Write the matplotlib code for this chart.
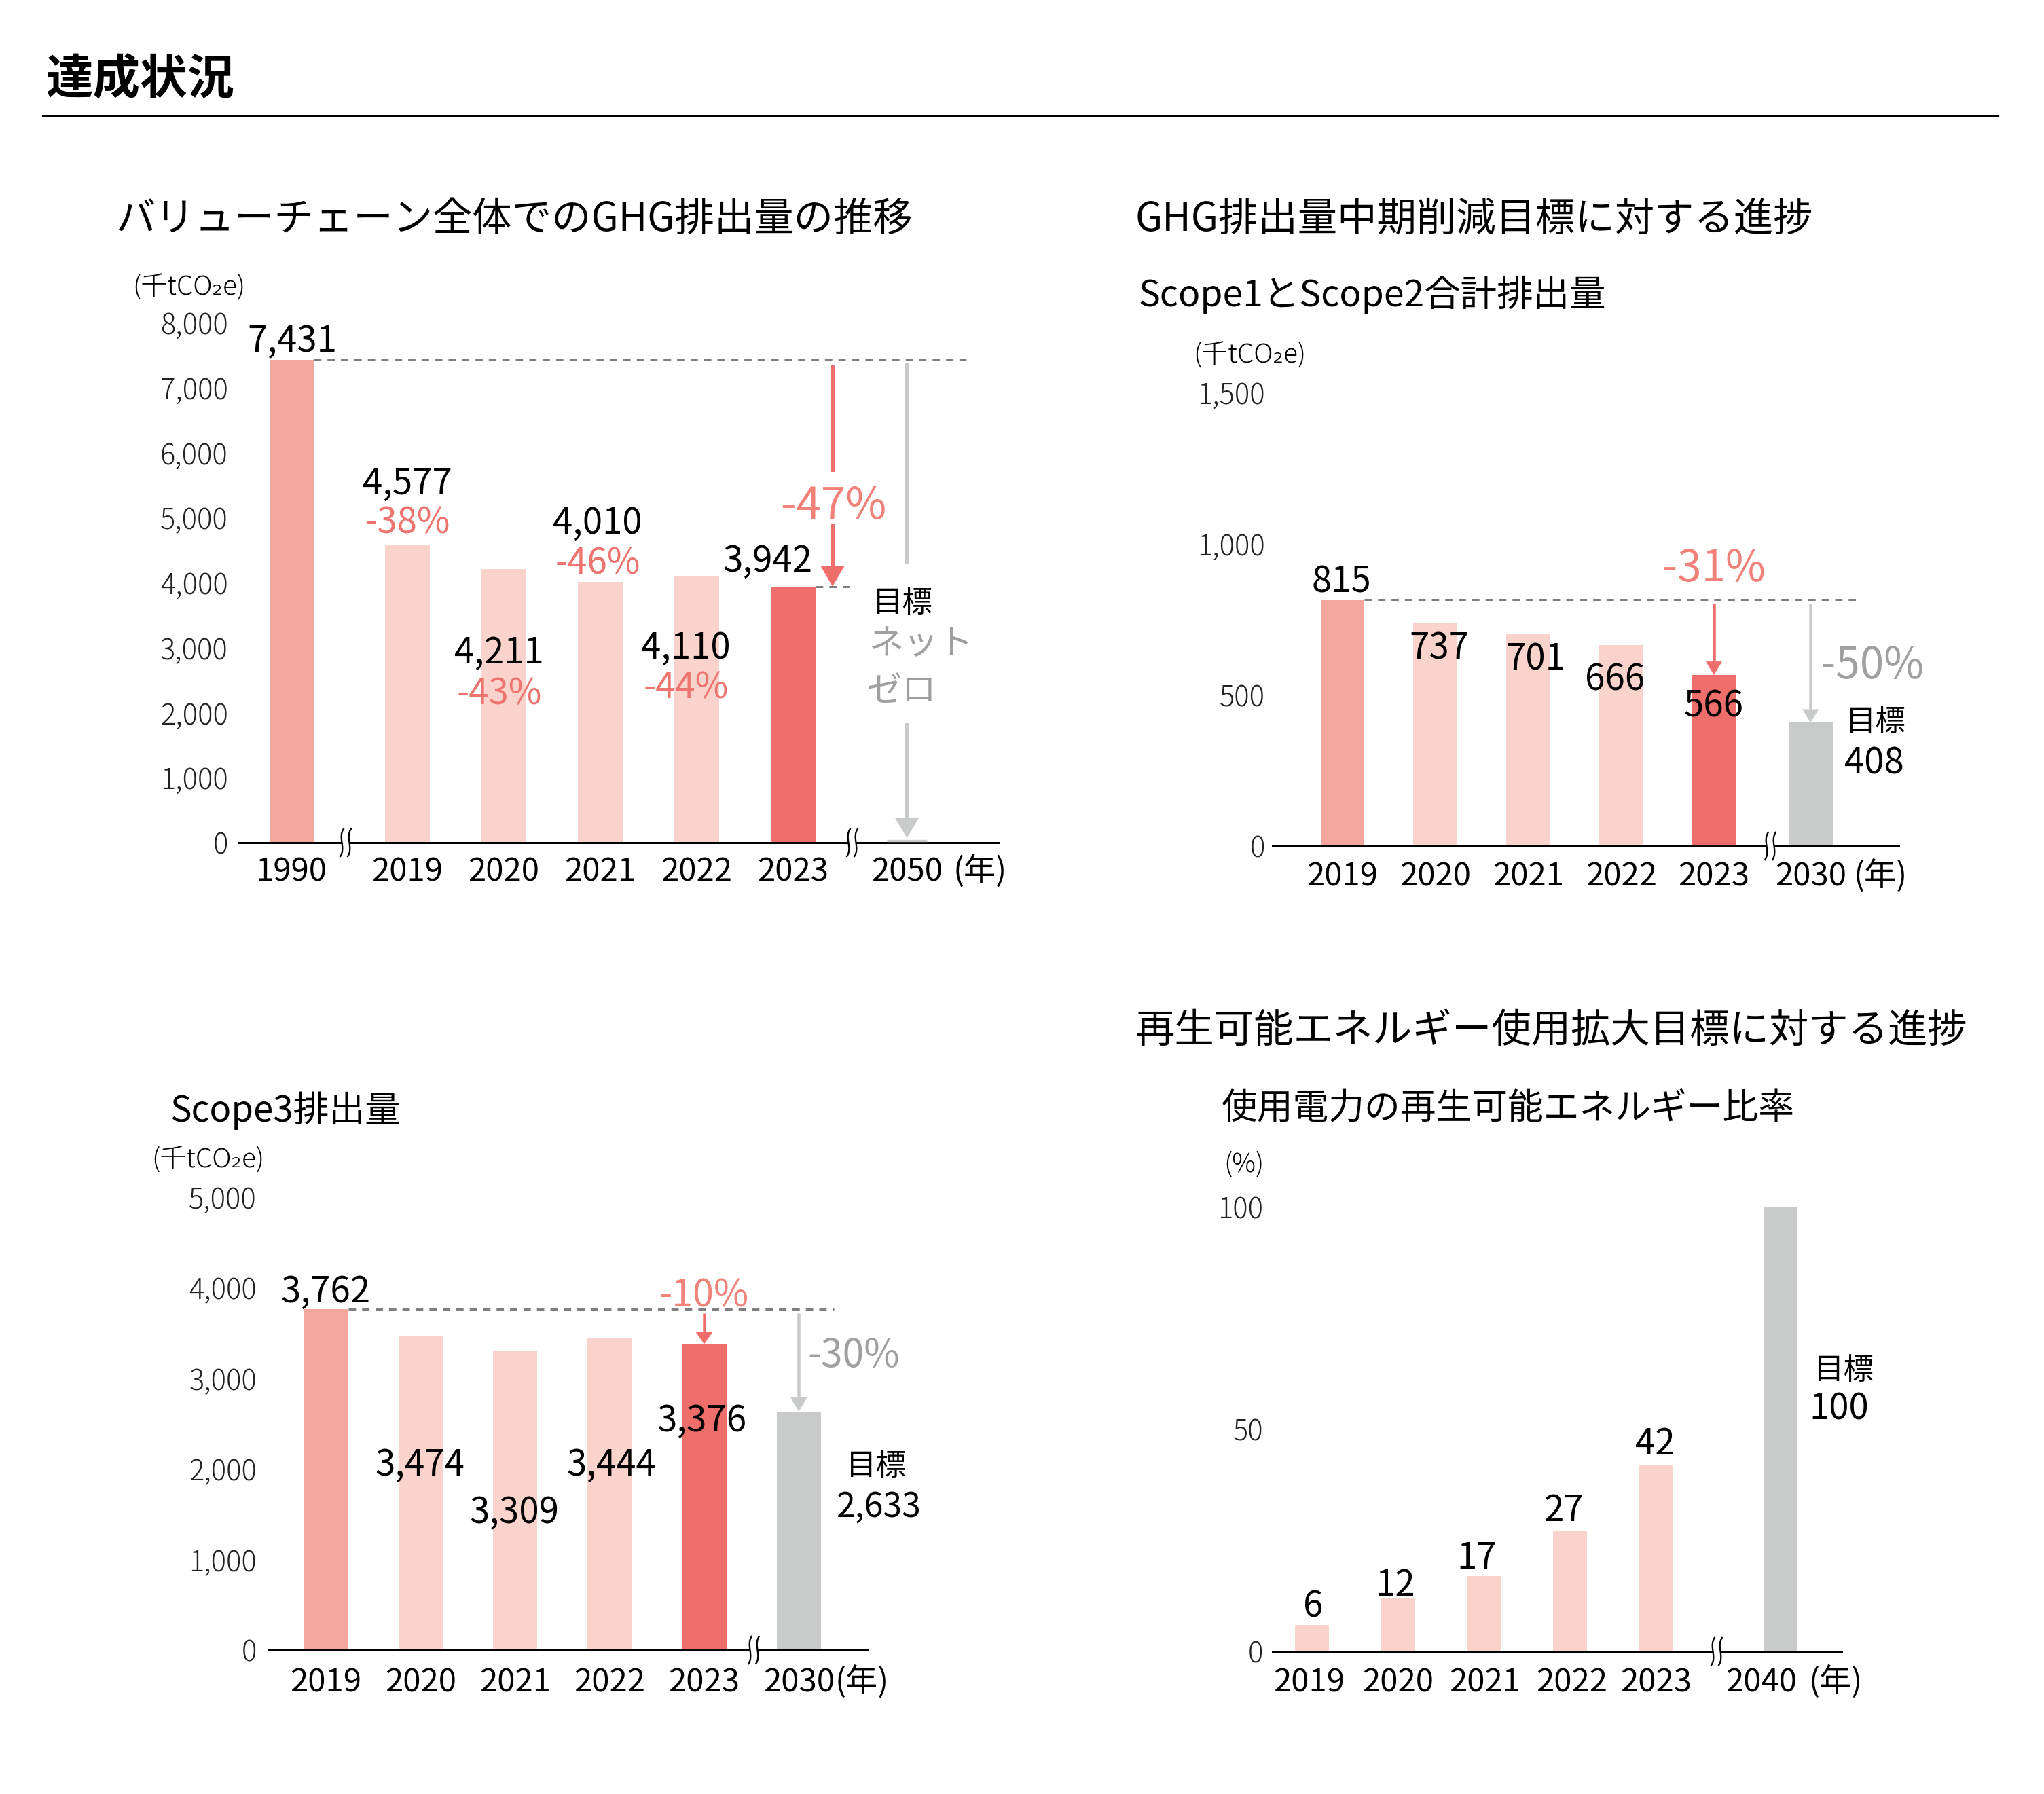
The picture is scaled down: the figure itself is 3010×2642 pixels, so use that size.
import matplotlib
matplotlib.use('Agg')
import matplotlib.pyplot as plt
import matplotlib.transforms as mtransforms
from matplotlib.patches import Polygon, PathPatch, Rectangle
from matplotlib.path import Path
from matplotlib.lines import Line2D

plt.rcParams['font.family'] = ['Noto Sans CJK JP', 'DejaVu Sans']

# ---------------- data ----------------
c1_years = ['1990', '2019', '2020', '2021', '2022', '2023']
c1_values = [7431, 4577, 4211, 4010, 4110, 3942]
c1_changes = ['', '-38%', '-43%', '-46%', '-44%', '']
c1_target_year = '2050'
c1_target_value = 0
c1_total_change = '-47%'
c1_yticks = [0, 1000, 2000, 3000, 4000, 5000, 6000, 7000, 8000]

c2_years = ['2019', '2020', '2021', '2022', '2023']
c2_values = [815, 737, 701, 666, 566]
c2_target_year = '2030'
c2_target_value = 408
c2_change = '-31%'
c2_target_change = '-50%'
c2_yticks = [0, 500, 1000, 1500]

c3_years = ['2019', '2020', '2021', '2022', '2023']
c3_values = [3762, 3474, 3309, 3444, 3376]
c3_target_year = '2030'
c3_target_value = 2633
c3_change = '-10%'
c3_target_change = '-30%'
c3_yticks = [0, 1000, 2000, 3000, 4000, 5000]

c4_years = ['2019', '2020', '2021', '2022', '2023']
c4_values = [6, 12, 17, 27, 42]
c4_target_year = '2040'
c4_target_value = 100
c4_yticks = [0, 50, 100]

# ---------------- style ----------------
W, H = 3010, 2642
DPI = 100
PT = 72.0 / DPI           # points per pixel
C_BASE = '#F3A69C'
C_LIGHT = '#F9D3CC'
C_NOW = '#EE6E6C'
C_TARGET = '#C9CACA'
C_RED_TXT = '#EE7470'
C_RED_BIG = '#F08279'
C_GRAY_TXT = '#A0A0A0'
C_DASH = '#7F7F7F'

fig = plt.figure(figsize=(W / DPI, H / DPI), dpi=DPI)
PIX = mtransforms.Affine2D().scale(1.0 / W, -1.0 / H).translate(0, 1) + fig.transFigure


def T(px, py, s, size, color='black', ha='center', weight='normal'):
    """text whose ink centre is at pixel (px, py)"""
    fig.text(px / W, 1 - (py + 0.37 * size / PT) / H, s, ha=ha, va='baseline',
             fontsize=size, color=color, fontweight=weight)


class Chart:
    def __init__(self, left, right, base, top, ymax, x0, step, yticks, ypad):
        self.left, self.right, self.base, self.top = left, right, base, top
        self.ymax, self.x0, self.step = ymax, x0, step
        ax = fig.add_axes([left / W, 1 - base / H, (right - left) / W, (base - top) / H])
        ax.set_xlim((left - x0) / step, (right - x0) / step)
        ax.set_ylim(0, ymax)
        for s in ('top', 'left', 'right'):
            ax.spines[s].set_visible(False)
        ax.spines['bottom'].set_linewidth(3 * PT)
        ax.spines['bottom'].set_color('black')
        ax.set_xticks([])
        ax.set_yticks(yticks, [f'{v:,}' for v in yticks], fontweight='light')
        ax.tick_params(axis='y', length=0, pad=ypad, labelsize=30, labelcolor='#222222')
        ax.patch.set_alpha(0)
        self.ax = ax

    def xpx(self, x):
        return self.x0 + x * self.step

    def ydata(self, py):
        return (self.base - py) * self.ymax / (self.base - self.top)

    def dx(self, px):
        return px / self.step

    def dy(self, px):
        return px * self.ymax / (self.base - self.top)

    def years(self, positions, labels, py, nen_px, size=34, shift=None):
        shift = shift or [0] * len(labels)
        for p, lab, s in zip(positions, labels, shift):
            T(self.xpx(p) + s, py, lab, size)
        T(nen_px, py, '(年)', size)

    def dashed(self, y, x_from, x_to):
        self.ax.plot([x_from, x_to], [y, y], color=C_DASH, lw=3 * PT,
                     dashes=(3.6, 3.0), zorder=3, clip_on=False)

    def arrow(self, x, y_from, y_to, color, lw_px, hw_px, hl_px, gap_px=None, pad_px=7):
        ax = self.ax
        y_start = y_from - self.dy(pad_px)
        y_head = y_to + self.dy(hl_px)
        pieces = [(y_start, y_head)]
        if gap_px is not None:
            g_top, g_bot = self.ydata(gap_px[0]), self.ydata(gap_px[1])
            pieces = [(y_start, g_top), (g_bot, y_head)]
        for a, b in pieces:
            ax.plot([x, x], [a, b], color=color, lw=lw_px * PT, solid_capstyle='butt',
                    zorder=4, clip_on=False)
        ax.add_patch(Polygon([[x - self.dx(hw_px / 2), y_head],
                              [x + self.dx(hw_px / 2), y_head],
                              [x, y_to]], closed=True, facecolor=color,
                             edgecolor='none', zorder=4, clip_on=False))

    def brk(self, x):
        cx, cy = self.xpx(x), self.base
        fig.patches.append(Rectangle((cx - 6, cy - 5), 12, 10, transform=PIX,
                                     facecolor='white', edgecolor='none', zorder=5))
        for off in (-5.5, 5.5):
            verts = [(cx + off + 3, cy - 21), (cx + off - 7, cy - 8),
                     (cx + off + 7, cy + 8), (cx + off - 3, cy + 21)]
            path = Path(verts, [Path.MOVETO, Path.CURVE4, Path.CURVE4, Path.CURVE4])
            fig.patches.append(PathPatch(path, transform=PIX, facecolor='none',
                                         edgecolor='black', lw=2.3 * PT, zorder=6))


# ---------------- header ----------------
T(67, 112, '達成状況', 50, ha='left', weight='bold')
fig.lines.append(Line2D([63, 2943], [171, 171], transform=PIX, color='black', lw=2.2 * PT))

# ---------------- chart 1 ----------------
ch1 = Chart(351, 1471, 1241, 1241 - 8000 * 0.0957, 8000, 600, 142, c1_yticks, 11)
p1 = [-1.2, 0, 1, 2, 3, 4]
p1_t = 5.18
w1 = 0.46
col1 = [C_BASE, C_LIGHT, C_LIGHT, C_LIGHT, C_LIGHT, C_NOW]
ch1.ax.bar(p1, c1_values, width=w1, color=col1, zorder=2)
ch1.ax.plot([p1_t - 0.21, p1_t + 0.21], [c1_target_value] * 2, color=C_TARGET, lw=3.4 * PT,
            solid_capstyle='butt', zorder=3, clip_on=False,
            transform=mtransforms.offset_copy(ch1.ax.transData, fig=fig, x=0, y=3.5, units='dots'))
ch1.dashed(c1_values[0], p1[0] + w1 / 2, ch1.dx(1423 - 600))
ch1.dashed(c1_values[-1], p1[-1] + w1 / 2, ch1.dx(1255 - 600))
ch1.arrow(ch1.dx(1226 - 600), c1_values[0], c1_values[-1], C_NOW, 6, 35, 30, gap_px=(695, 771))
ch1.arrow(p1_t, c1_values[0], c1_target_value + ch1.dy(7), C_TARGET, 6, 36, 30,
          gap_px=(831, 1065), pad_px=4)
ch1.brk(ch1.dx(509 - 600))
ch1.brk(ch1.dx(1255 - 600))

T(170, 318, 'バリューチェーン全体でのGHG排出量の推移', 42, ha='left')
T(195, 420, '(千tCO₂e)', 28, ha='left', weight='light')
c1_val_pos = [(430, 498), (600, 708), (735, 957), (880, 766), (1010, 950), (1130, 822)]
c1_chg_pos = [None, (600, 766), (735, 1018), (880, 826), (1010, 1009), None]
for v, c, vp, cp in zip(c1_values, c1_changes, c1_val_pos, c1_chg_pos):
    T(vp[0], vp[1], f'{v:,}', 38)
    if c:
        T(cp[0], cp[1], c, 38, color=C_RED_TXT)
T(1228, 740, c1_total_change, 47, color=C_RED_BIG)
T(1285, 885, '目標', 32, ha='left')
T(1280, 944, 'ネット', 37, color=C_GRAY_TXT, ha='left')
T(1277, 1014, 'ゼロ', 37, color=C_GRAY_TXT, ha='left')
ch1.years(p1 + [p1_t], c1_years + [c1_target_year], 1280, 1443)

# ---------------- chart 2 ----------------
ch2 = Chart(1874, 2796, 1246, 1246 - 1500 * 0.445, 1500, 1977, 136.75, c2_yticks, 8)
p2 = [0, 1, 2, 3, 4]
p2_t = 5.04
w2 = 0.475
col = [C_BASE, C_LIGHT, C_LIGHT, C_LIGHT, C_NOW]
ch2.ax.bar(p2, c2_values, width=w2, color=col, zorder=2)
ch2.ax.bar([p2_t], [c2_target_value], width=w2, color=C_TARGET, zorder=2)
ch2.dashed(c2_values[0], p2[0] + w2 / 2, ch2.dx(2738 - 1977))
ch2.arrow(p2[-1], c2_values[0], c2_values[-1], C_NOW, 4.5, 24, 20, pad_px=6)
ch2.arrow(p2_t, c2_values[0], c2_target_value, C_TARGET, 4.5, 24, 20, pad_px=6)
ch2.brk(ch2.dx(2607 - 1977))

T(1672, 318, 'GHG排出量中期削減目標に対する進捗', 42, ha='left')
T(1676, 431, 'Scope1とScope2合計排出量', 38.5, ha='left')
T(1757, 520, '(千tCO₂e)', 28, ha='left', weight='light')
c2_val_pos = [(1976, 853), (2119, 951), (2261, 967), (2378, 997), (2524, 1036)]
for v, vp in zip(c2_values, c2_val_pos):
    T(vp[0], vp[1], f'{v:,}', 38)
T(2524, 832, c2_change, 46, color=C_RED_BIG)
T(2757, 975, c2_target_change, 46, color=C_GRAY_TXT)
T(2762, 1060, '目標', 32)
T(2760, 1120, f'{c2_target_value:,}', 38)
ch2.years(p2 + [p2_t], c2_years + [c2_target_year], 1287, 2769)

# ---------------- chart 3 ----------------
ch3 = Chart(396, 1278, 2430, 2430 - 5000 * 0.1334, 5000, 480, 139.25, c3_yticks, 13)
p3 = [0, 1, 2, 3, 4]
p3_t = 5.0
w3 = 0.467
ch3.ax.bar(p3, c3_values, width=w3, color=col, zorder=2)
ch3.ax.bar([p3_t], [c3_target_value], width=w3, color=C_TARGET, zorder=2)
ch3.dashed(c3_values[0], p3[0] + w3 / 2, ch3.dx(1228 - 480))
ch3.arrow(p3[-1], c3_values[0], c3_values[-1], C_NOW, 4.5, 25, 18, pad_px=6)
ch3.arrow(p3_t, c3_values[0], c3_target_value, C_TARGET, 4.5, 25, 21, pad_px=6)
ch3.brk(ch3.dx(1110 - 480))

T(250, 1632, 'Scope3排出量', 38, ha='left')
T(223, 1705, '(千tCO₂e)', 28, ha='left', weight='light')
c3_val_pos = [(479, 1898), (618, 2153), (757, 2223), (900, 2153), (1033, 2088)]
for v, vp in zip(c3_values, c3_val_pos):
    T(vp[0], vp[1], f'{v:,}', 38)
T(1037, 1904, c3_change, 40, color=C_RED_BIG)
T(1257, 1992, c3_target_change, 41, color=C_GRAY_TXT)
T(1290, 2156, '目標', 32)
T(1294, 2215, f'{c3_target_value:,}', 36)
ch3.years(p3 + [p3_t], c3_years + [c3_target_year], 2474, 1269)

# ---------------- chart 4 ----------------
ch4 = Chart(1874, 2712, 2432, 1778, 100, 1932, 126.75, c4_yticks, 10)
p4 = [0, 1, 2, 3, 4]
p4_t = 5.44
w4 = 0.394
ch4.ax.bar(p4, c4_values, width=w4, color=C_LIGHT, zorder=2)
ch4.ax.bar([p4_t], [c4_target_value], width=w4, color=C_TARGET, zorder=2)
ch4.brk(ch4.dx(2528 - 1932))

T(1672, 1513, '再生可能エネルギー使用拡大目標に対する進捗', 42, ha='left')
T(1799, 1629, '使用電力の再生可能エネルギー比率', 38, ha='left')
T(1802, 1711, '(%)', 28, ha='left', weight='light')
c4_val_pos = [(1934, 2362), (2055, 2330), (2175, 2290), (2303, 2220), (2437, 2122)]
for v, vp in zip(c4_values, c4_val_pos):
    T(vp[0], vp[1], f'{v:,}', 38)
T(2715, 2015, '目標', 32)
T(2708, 2071, f'{c4_target_value:,}', 38)
ch4.years(p4 + [p4_t], c4_years + [c4_target_year], 2474, 2703,
          shift=[-4, 0, 1, 2, 0, -28])

fig.savefig('out.png', dpi=DPI, facecolor='white')
